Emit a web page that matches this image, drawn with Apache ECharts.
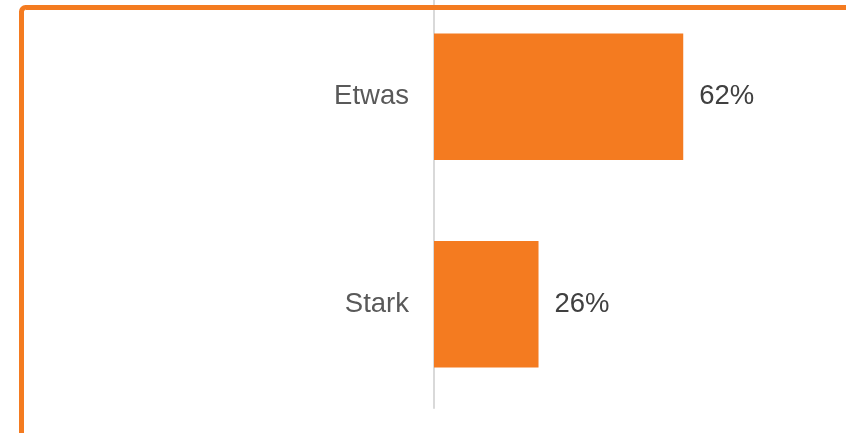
<!DOCTYPE html>
<html>
<head>
<meta charset="utf-8">
<script src="https://cdn.jsdelivr.net/npm/echarts@6/dist/echarts.min.js"></script>
<style>
html,body{margin:0;padding:0;background:#fff;}
#c{width:846px;height:433px;}
</style>
</head>
<body>
<div id="c"></div>
<script>
const categories = ['Etwas', 'Stark'];
const values = [62, 26];
const axisMin = 0;
const axisMax = 100;

const chart = echarts.init(document.getElementById('c'), null, {renderer: 'canvas'});
chart.setOption({
  animation: false,
  backgroundColor: '#ffffff',
  grid: {left: 434, right: 10, top: -7, bottom: 25, containLabel: false, outerBoundsMode: 'none'},
  xAxis: {
    type: 'value', min: axisMin, max: axisMax, show: false
  },
  yAxis: {
    type: 'category',
    data: categories,
    inverse: true,
    offset: 1,
    axisLine: {show: true, lineStyle: {color: '#d9d9d9', width: 2}},
    axisTick: {show: false},
    axisLabel: {
      color: '#595959',
      fontSize: 27.5,
      fontFamily: 'Liberation Sans, Arial, sans-serif',
      margin: 24
    },
    splitLine: {show: false}
  },
  series: [{
    type: 'bar',
    data: values,
    barCategoryGap: '39%',
    itemStyle: {color: '#F47B20'},
    label: {
      show: true,
      position: 'right',
      distance: 16,
      formatter: p => p.value + '%',
      color: '#404040',
      fontSize: 27.5,
      fontFamily: 'Liberation Sans, Arial, sans-serif'
    }
  }],
  graphic: [{
    type: 'rect',
    z: 100,
    shape: {x: 21.5, y: 7.5, width: 1200, height: 1000, r: 4},
    style: {fill: 'none', stroke: '#F47B20', lineWidth: 5}
  }]
});
</script>
</body>
</html>
